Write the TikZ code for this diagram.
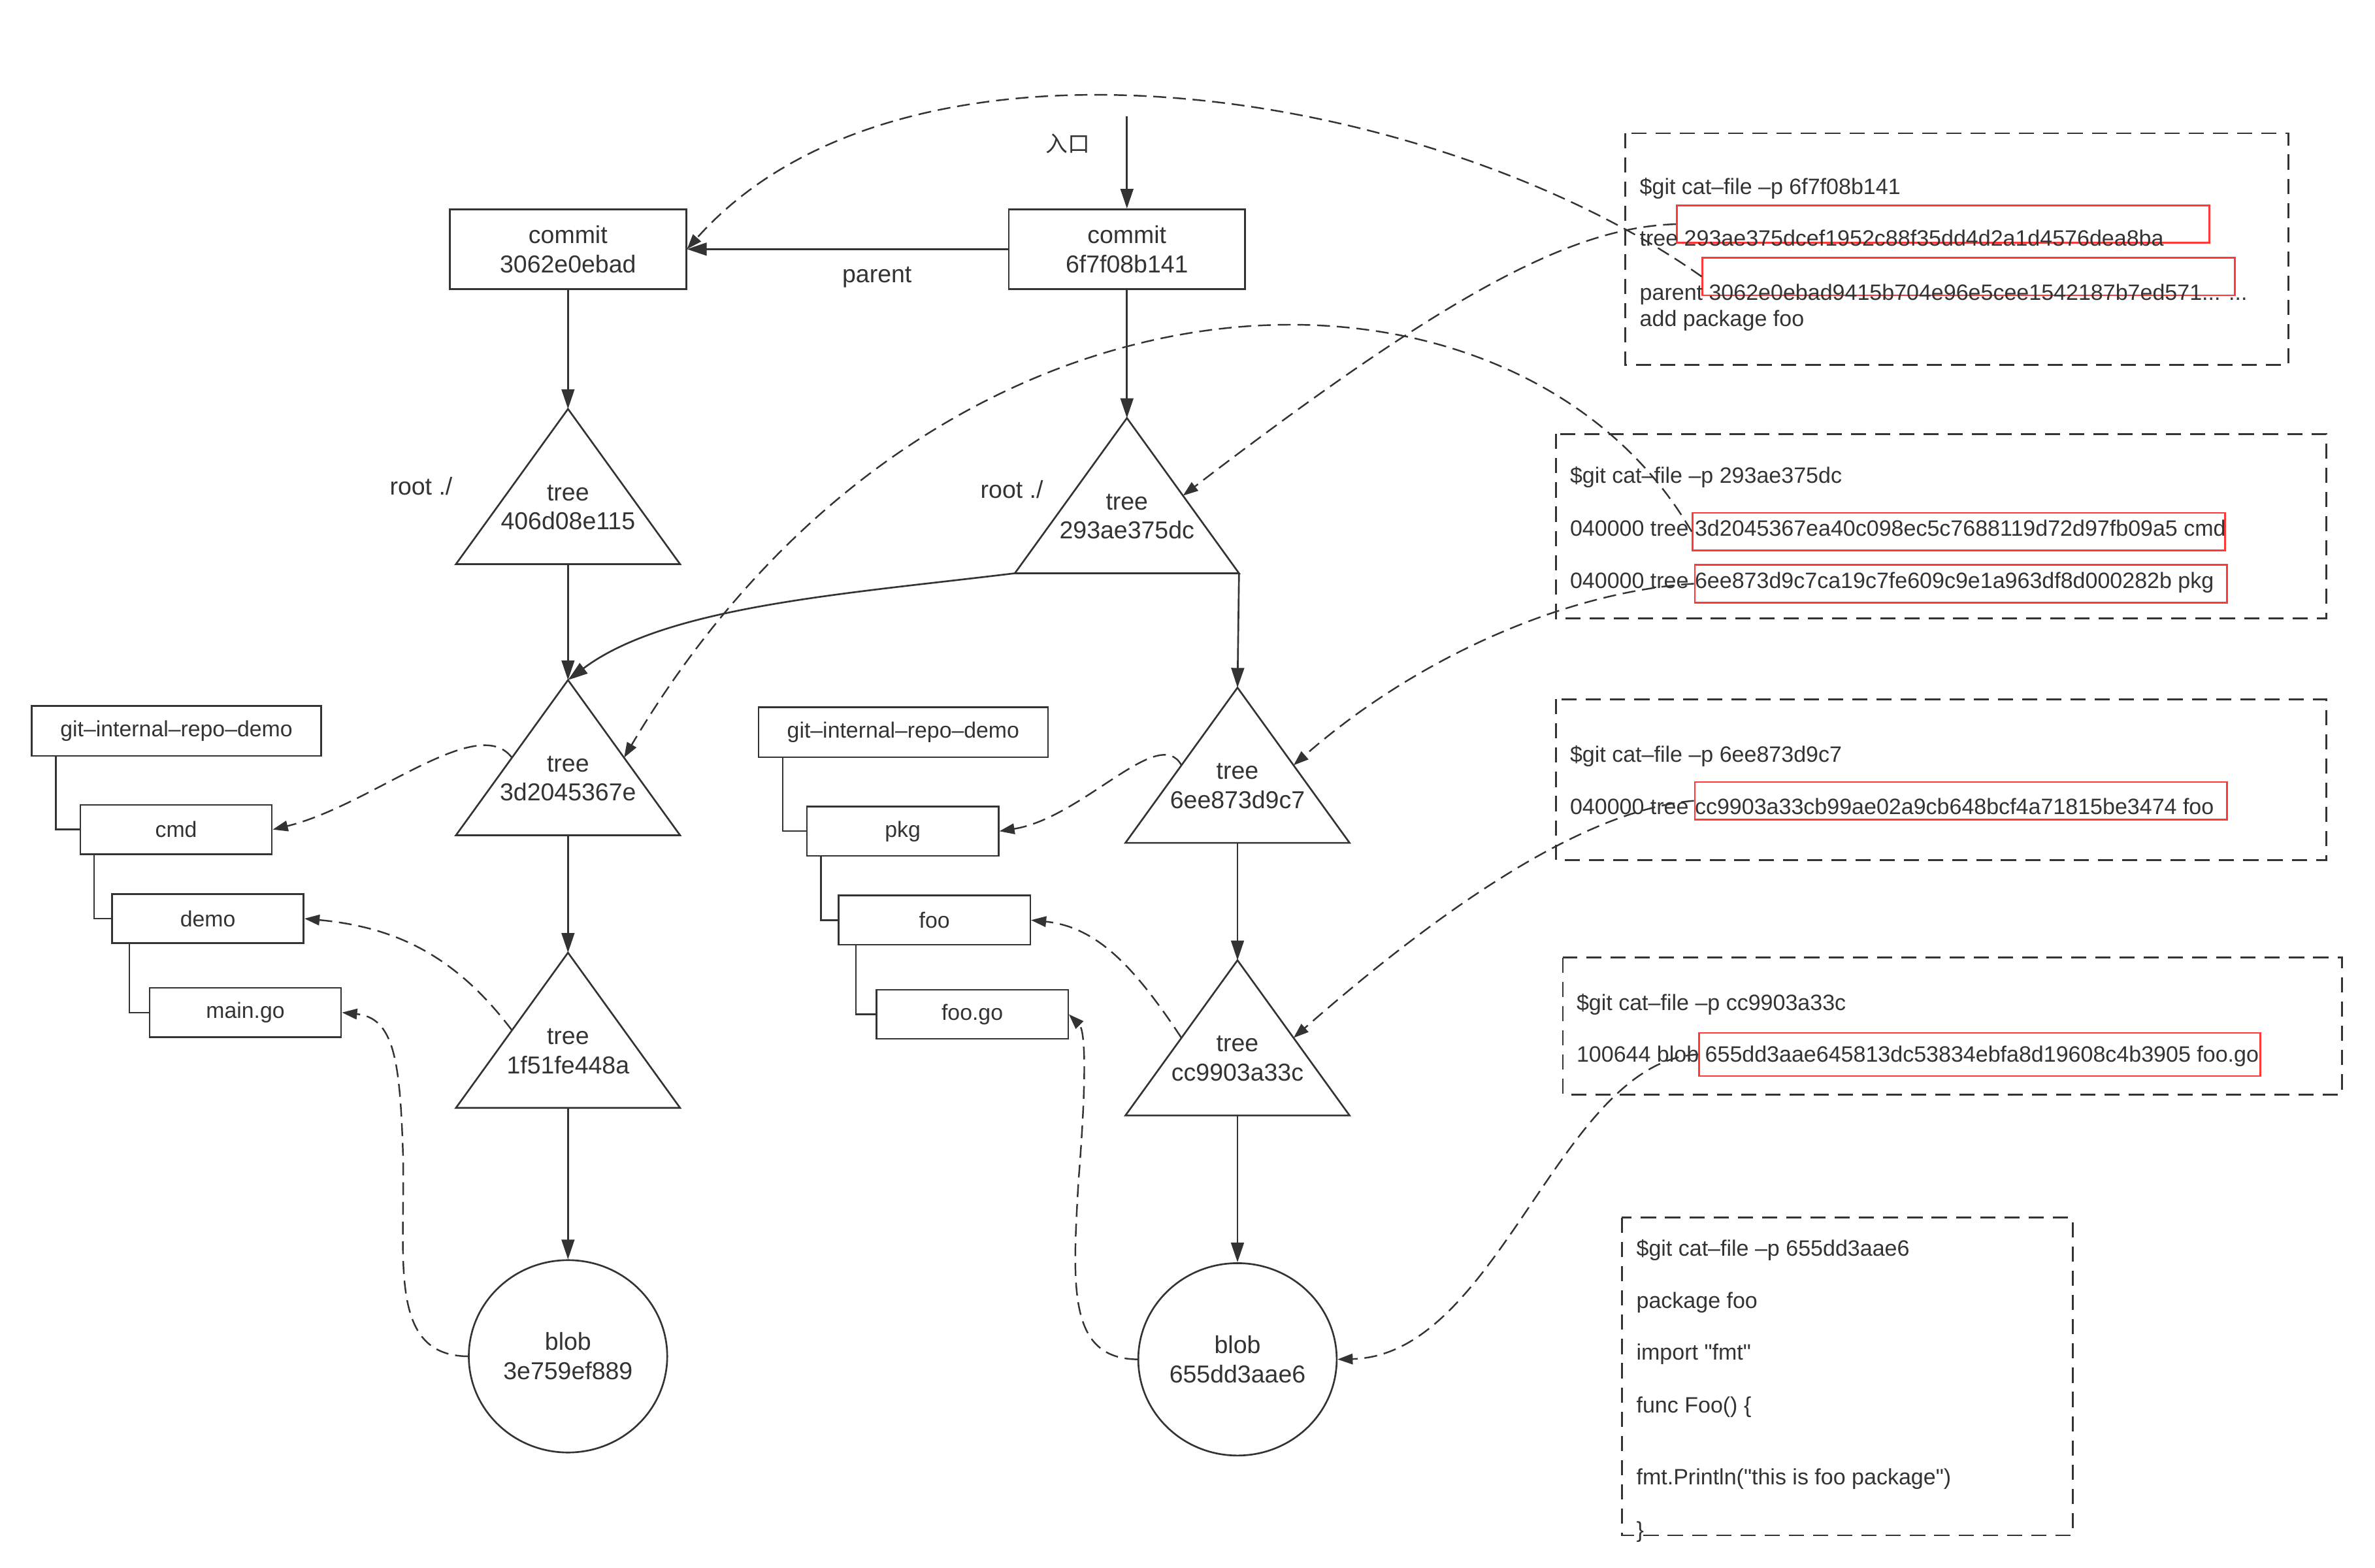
\documentclass[tikz,border=0pt]{standalone}
\usepackage{fontspec}
\setmainfont{Liberation Sans}[Ligatures=TeXOff]
\newfontfamily\cjk{Noto Sans CJK SC}
\usepackage{tikz}
\usetikzlibrary{shapes.geometric, arrows.meta, positioning, calc}
\definecolor{ink}{HTML}{333333}
\definecolor{hl}{HTML}{FF3838}

\begin{document}
\begin{tikzpicture}[x=0.2mm, y=-0.2mm, color=ink, line width=0.65pt,
  objtext/.style={align=center, inner sep=0, font=\fontsize{9.2pt}{11pt}\selectfont},
  commitbox/.style={draw, rectangle, minimum width=31.2mm, minimum height=10.5mm, objtext},
  blobnode/.style={draw, ellipse, minimum width=26.2mm, minimum height=25.4mm, objtext},
  filebox/.style={draw, rectangle, minimum width=25.3mm, minimum height=6.5mm, inner sep=0, line width=0.6pt, font=\fontsize{8.3pt}{10pt}\selectfont},
  repobox/.style={filebox, minimum width=38.2mm, minimum height=6.6mm},
  sidelabel/.style={inner sep=0, font=\fontsize{9.2pt}{11pt}\selectfont},
  link/.style={-{Triangle[length=2.6mm,width=1.7mm]}},
  ref/.style={line width=0.6pt, dash pattern=on 1.7mm off 0.9mm, -{Triangle[length=2mm,width=1.4mm]}},
  catbox/.style={line width=0.7pt, dash pattern=on 2mm off 1.2mm},
  cattext/.style={anchor=base west, inner sep=0, font=\fontsize{8.35pt}{10pt}\selectfont},
  redbox/.style={draw=hl, line width=0.7pt, rectangle, minimum width=70.3mm, minimum height=4.95mm, inner sep=0}]
\useasboundingbox (0,0) rectangle (1568,1035);

% Commits
\node[commitbox] (c306) at (375,164.5) {commit\\3062e0ebad};
\node[commitbox] (c6f) at (744,164.5) {commit\\6f7f08b141};
\coordinate (entry) at (744,77);
\node[sidelabel, font=\cjk\fontsize{8.3pt}{10pt}\selectfont] (entrylabel) at (705,95) {入口};
\node[sidelabel] (parentlabel) at (579,183) {parent};

% Trees
\foreach \n/\x/\y/\h in {t406/375/270/406d08e115, t293/744/276/293ae375dc,
    t3d2/375/449/3d2045367e, t1f5/375/629/1f51fe448a,
    t6ee/817/454/6ee873d9c7, tcc9/817/634/cc9903a33c} {
  \coordinate (\n-top) at (\x,\y);
  \coordinate (\n-left) at (\x-74,\y+102.5);
  \coordinate (\n-right) at (\x+74,\y+102.5);
  \coordinate (\n-base) at (\x,\y+102.5);
  \coordinate (\n-ml) at ($(\n-top)!0.5!(\n-left)$);
  \coordinate (\n-mr) at ($(\n-top)!0.5!(\n-right)$);
  \draw (\n-top) -- (\n-right) -- (\n-left) -- cycle;
  \node[objtext] (\n) at (\x,\y+65) {tree\\\h};
}
\node[sidelabel] (rootL) at (278,321) {root ./};
\node[sidelabel] (rootR) at (668,323) {root ./};

% Blobs
\node[blobnode] (blob1) at (375,895.5) {blob\\3e759ef889};
\node[blobnode] (blob2) at (817,897.5) {blob\\655dd3aae6};

% Links
\draw[link] (entry) -- (c6f.north);
\draw[link] (c6f.west) -- (c306.east);
\draw[link] (c306.south) -- (t406-top);
\draw[link] (c6f.south) -- (t293-top);
\draw[link] (t406-base) -- (t3d2-top);
\draw[link] (t293-left) .. controls (560,392) and (440,400) .. (t3d2-top);
\draw[link] (t293-right) -- (t6ee-top);
\draw[link] (t3d2-base) -- (t1f5-top);
\draw[link] (t6ee-base) -- (tcc9-top);
\draw[link] (t1f5-base) -- (blob1.north);
\draw[link] (tcc9-base) -- (blob2.north);

% Working copy, left
\node[repobox] (repoL) at (116.5,482.5) {git–internal–repo–demo};
\node[filebox] (cmd) at (116.3,547.7) {cmd};
\node[filebox] (demo) at (137.2,606.5) {demo};
\node[filebox] (maingo) at (162,668.5) {main.go};
\draw[line width=0.6pt] ($(repoL.south west)+(16.5,0)$) |- (cmd.west);
\draw[line width=0.6pt] ($(cmd.south west)+(9.7,0)$) |- (demo.west);
\draw[line width=0.6pt] ($(demo.south west)+(12,0)$) |- (maingo.west);

% Working copy, right
\node[repobox] (repoR) at (596.3,483.5) {git–internal–repo–demo};
\node[filebox] (pkg) at (596,548.8) {pkg};
\node[filebox] (foo) at (616.9,607.5) {foo};
\node[filebox] (foogo) at (641.9,669.7) {foo.go};
\draw[line width=0.6pt] ($(repoR.south west)+(16.5,0)$) |- (pkg.west);
\draw[line width=0.6pt] ($(pkg.south west)+(9.7,0)$) |- (foo.west);
\draw[line width=0.6pt] ($(foo.south west)+(12,0)$) |- (foogo.west);

% cat-file outputs
\draw[catbox] (1073,88) rectangle (1511,241);
\node[redbox] (rb1) at (1282.8,148) {};
\node[redbox] (rb2) at (1299.8,182.6) {};
\node[cattext] (c1a) at (1082,128.4) {\$git cat–file –p 6f7f08b141};
\node[cattext] (c1b) at (1082,162.6) {tree 293ae375dcef1952c88f35dd4d2a1d4576dea8ba};
\node[cattext] (c1c) at (1082,198.2) {parent 3062e0ebad9415b704e96e5cee1542187b7ed571... ...};
\node[cattext] (c1d) at (1082,215.6) {add package foo};

\draw[catbox] (1027.4,286.5) rectangle (1535.8,408.4);
\node[redbox] (rb3) at (1293.2,351) {};
\node[redbox] (rb4) at (1294.7,385.4) {};
\node[cattext] (c2a) at (1036,319.2) {\$git cat–file –p 293ae375dc};
\node[cattext] (c2b) at (1036,353.8) {040000 tree 3d2045367ea40c098ec5c7688119d72d97fb09a5 cmd};
\node[cattext] (c2c) at (1036,388.3) {040000 tree 6ee873d9c7ca19c7fe609c9e1a963df8d000282b pkg};

\draw[catbox] (1027.4,461.6) rectangle (1535.8,568);
\node[redbox] (rb5) at (1294.7,528.7) {};
\node[cattext] (c3a) at (1036,503.3) {\$git cat–file –p 6ee873d9c7};
\node[cattext] (c3b) at (1036,537.8) {040000 tree cc9903a33cb99ae02a9cb648bcf4a71815be3474 foo};

\draw[catbox] (1031.8,632.3) rectangle (1546.2,722.6);
\node[redbox, minimum width=74.1mm, minimum height=5.7mm] (rb6) at (1307,696.2) {};
\node[cattext] (c4a) at (1040.3,667.2) {\$git cat–file –p cc9903a33c};
\node[cattext] (c4b) at (1040.3,701) {100644 blob 655dd3aae645813dc53834ebfa8d19608c4b3905 foo.go};

\draw[catbox] (1070.7,804) rectangle (1368.3,1013.7);
\node[cattext] (c5a) at (1079.8,829.4) {\$git cat–file –p 655dd3aae6};
\node[cattext] (c5b) at (1079.8,863.7) {package foo};
\node[cattext] (c5c) at (1079.8,898) {import "fmt"};
\node[cattext] (c5d) at (1079.8,933) {func Foo() \{};
\node[cattext] (c5e) at (1079.8,980.4) {fmt.Println("this is foo package")};
\node[cattext] (c5f) at (1079.8,1015) {\}};

% Object to file
\draw[ref] (t3d2-ml) .. controls (315,470) and (245,532) .. (cmd.east);
\draw[ref] (t1f5-ml) .. controls (300,630) and (260,612) .. (demo.east);
\draw[ref] (blob1.west) .. controls (255,895) and (268,830) .. (266,760)
  .. controls (264,700) and (260,672) .. (maingo.east);
\draw[ref] (t6ee-ml) .. controls (765,478) and (715,540) .. (pkg.east);
\draw[ref] (tcc9-ml) .. controls (750,640) and (725,612) .. (foo.east);
\draw[ref] (blob2.west) .. controls (705,897) and (708,850) .. (712,780)
  .. controls (718,705) and (716,680) .. (foogo.east);

% Hash to object
\draw[ref] (rb2.west) .. controls (950,60) and (600,0) .. (c306.east);
\draw[ref] (rb1.west) .. controls (1040,150) and (960,190) .. (t293-mr);
\draw[ref] (rb3.west) .. controls (1000,150) and (620,150) .. (t3d2-mr);
\draw[ref] (rb4.west) .. controls (1040,390) and (940,430) .. (t6ee-mr);
\draw[ref] (rb5.west) .. controls (1040,535) and (940,610) .. (tcc9-mr);
\draw[ref] (rb6.west) .. controls (1030,700) and (990,895) .. (blob2.east);
\end{tikzpicture}
\end{document}
